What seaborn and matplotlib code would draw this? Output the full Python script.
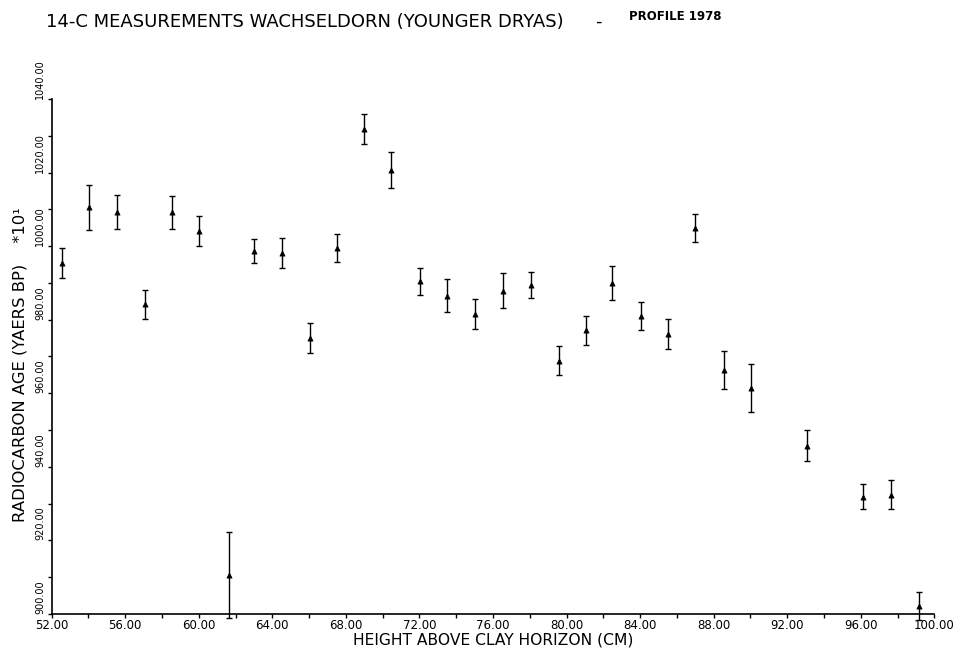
import numpy as np
import pandas as pd
import seaborn as sns
import matplotlib.pyplot as plt
from matplotlib.ticker import MultipleLocator, FormatStrFormatter

# height above clay horizon (cm)
height_cm = [52.58, 54.03, 55.53, 57.07, 58.54, 60.02, 61.65, 63.01, 64.52, 66.04,
             67.51, 68.96, 70.48, 72.02, 73.52, 75.04, 76.54, 78.05, 79.57, 81.08,
             82.49, 84.03, 85.53, 87.00, 88.55, 90.05, 93.09, 96.13, 97.63, 99.17]
# radiocarbon age (years BP / 10)
age = [995.4, 1010.5, 1009.2, 984.2, 1009.2, 1004.1, 910.7, 998.6, 998.2, 975.1,
       999.5, 1031.8, 1020.7, 990.4, 986.5, 981.6, 987.9, 989.4, 968.9, 977.1,
       989.9, 981.0, 976.2, 1004.9, 966.3, 961.5, 945.8, 931.9, 932.4, 902.3]
# one sigma error
age_err = [4.2, 6.0, 4.6, 4.0, 4.5, 4.1, 11.7, 3.2, 4.1, 4.1,
           3.9, 4.0, 4.9, 3.6, 4.5, 4.0, 4.8, 3.5, 3.9, 3.9,
           4.6, 3.9, 4.1, 3.9, 5.1, 6.5, 4.2, 3.4, 3.9, 3.8]

df = pd.DataFrame({"height": height_cm, "age": age, "err": age_err})

sns.set_theme(style="ticks")
plt.rcParams["font.family"] = ["DejaVu Sans"]
plt.rcParams["text.color"] = "black"
plt.rcParams["axes.labelcolor"] = "black"
plt.rcParams["xtick.color"] = "black"
plt.rcParams["ytick.color"] = "black"

fig = plt.figure(figsize=(9.61, 6.52), dpi=100)
ax = fig.add_axes([0.0538, 0.0583, 0.9184, 0.7899])

ax.errorbar(df["height"], df["age"], yerr=df["err"], fmt="none",
            ecolor="black", elinewidth=1.0, capsize=2.2, capthick=1.0, clip_on=False)
sns.scatterplot(data=df, x="height", y="age", ax=ax, marker="^", s=14,
                color="black", edgecolor="black", linewidth=0.5, zorder=3, clip_on=False)

ax.set_xlim(52, 100)
ax.set_ylim(900, 1040)
ax.xaxis.set_major_locator(MultipleLocator(4))
ax.xaxis.set_minor_locator(MultipleLocator(2))
ax.yaxis.set_major_locator(MultipleLocator(20))
ax.yaxis.set_minor_locator(MultipleLocator(10))
ax.xaxis.set_major_formatter(FormatStrFormatter("%.2f"))
ax.yaxis.set_major_formatter(FormatStrFormatter("%.2f"))

ax.tick_params(which="both", direction="out", length=3, width=1.0, color="black")
ax.tick_params(axis="x", labelsize=8.5, pad=0.5)
ax.tick_params(axis="y", labelsize=7, pad=1.5)
for lab in ax.get_yticklabels():
    lab.set_rotation(90)
    lab.set_va("bottom")

for side in ["top", "right"]:
    ax.spines[side].set_visible(False)
for side in ["left", "bottom"]:
    ax.spines[side].set_linewidth(1.2)
    ax.spines[side].set_color("black")

ax.set_xlabel("HEIGHT ABOVE CLAY HORIZON (CM)", fontsize=11.2)
ax.xaxis.set_label_coords(0.5, -0.035)
ax.set_ylabel("RADIOCARBON AGE (YAERS BP)    *10\u00b9", fontsize=11.8)
ax.yaxis.set_label_coords(-0.027, 0.484)

fig.text(46 / 961, 1 - 27 / 652, "14-C MEASUREMENTS WACHSELDORN (YOUNGER DRYAS)",
         fontsize=13, va="baseline", ha="left")
fig.text(595 / 961, 1 - 27 / 652, "-", fontsize=13, va="baseline", ha="left")
fig.text(629 / 961, 1 - 20 / 652, "PROFILE 1978", fontsize=8.5, fontweight="bold",
         va="baseline", ha="left")

fig.savefig("out.png", dpi=100, facecolor="white")
